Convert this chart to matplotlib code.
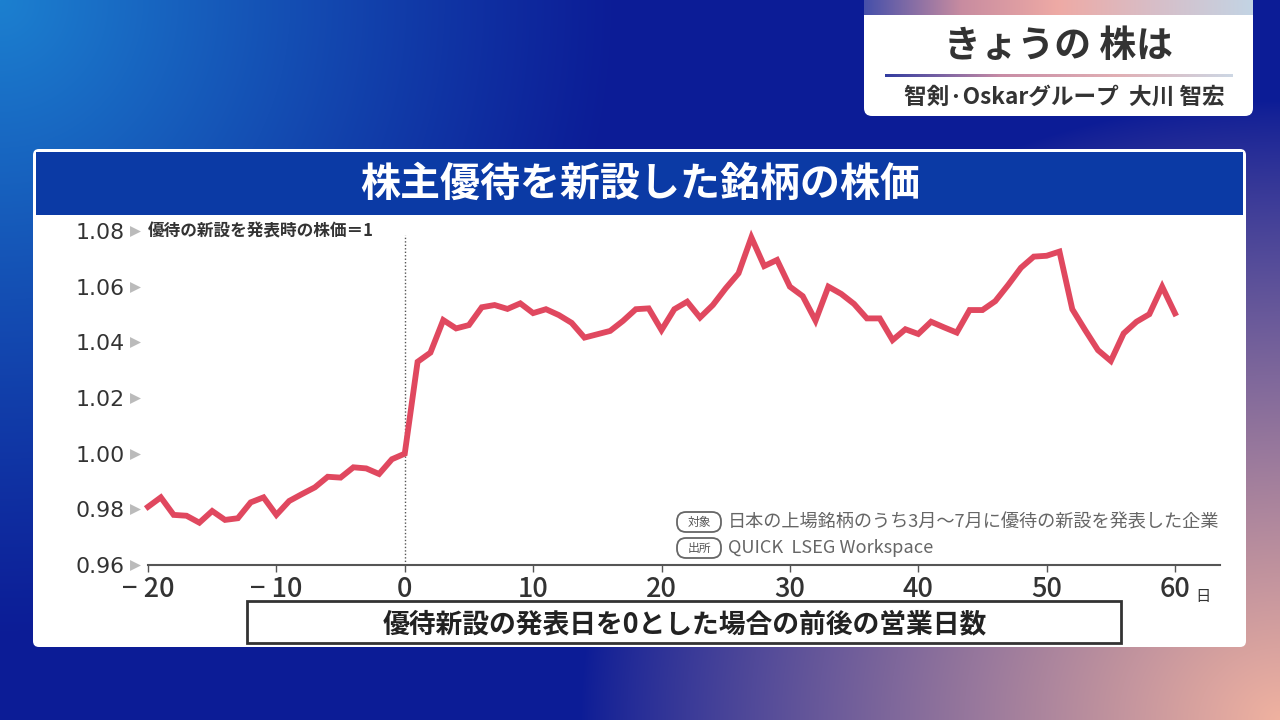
import numpy as np
import matplotlib
matplotlib.use("Agg")
import matplotlib.pyplot as plt
from matplotlib.patches import FancyBboxPatch, Rectangle

plt.rcParams['font.family'] = ['Noto Sans CJK JP', 'DejaVu Sans']

# ---------------- data ----------------
days = list(range(-20, 61))
price = [0.9809, 0.9843, 0.9780, 0.9777, 0.9752, 0.9794, 0.9762, 0.9768, 0.9825, 0.9843,
         0.9780, 0.9830, 0.9855, 0.9879, 0.9917, 0.9914, 0.9951, 0.9947, 0.9927, 0.9980,
         1.0000,
         1.0330, 1.0363, 1.0480, 1.0450, 1.0462, 1.0526, 1.0534, 1.0520, 1.0540, 1.0505,
         1.0519, 1.0498, 1.0470, 1.0417, 1.0429, 1.0441, 1.0477, 1.0519, 1.0522, 1.0444,
         1.0519, 1.0546, 1.0489, 1.0534, 1.0594, 1.0648, 1.0777, 1.0674, 1.0696, 1.0600,
         1.0566, 1.0478, 1.0600, 1.0574, 1.0538, 1.0486, 1.0486, 1.0408, 1.0447, 1.0430,
         1.0474, 1.0454, 1.0435, 1.0516, 1.0516, 1.0548, 1.0606, 1.0668, 1.0708, 1.0711,
         1.0726, 1.0519, 1.0444, 1.0372, 1.0333, 1.0432, 1.0474, 1.0501, 1.0600, 1.0504]
x_ticks = [-20, -10, 0, 10, 20, 30, 40, 50, 60]
x_tick_labels = ['− 20', '− 10', '0', '10', '20', '30', '40', '50', '60']
y_ticks = [0.96, 0.98, 1.00, 1.02, 1.04, 1.06, 1.08]
y_tick_labels = ['0.96', '0.98', '1.00', '1.02', '1.04', '1.06', '1.08']

title = '株主優待を新設した銘柄の株価'
y_note = '優待の新設を発表時の株価＝1'
x_label = '優待新設の発表日を0とした場合の前後の営業日数'
target_text = '日本の上場銘柄のうち3月～7月に優待の新設を発表した企業'
source_text = 'QUICK  LSEG Workspace'
corner_title = 'きょうの 株は'
corner_sub = '智剣·Oskarグループ  大川 智宏'

W, H = 1280, 720
fig = plt.figure(figsize=(12.8, 7.2), dpi=100)

# ---------------- background ----------------
bg = fig.add_axes([0, 0, 1, 1])
bg.set_xlim(0, W)
bg.set_ylim(H, 0)
bg.axis('off')

yy, xx = np.mgrid[0:H, 0:W].astype(float)
deep = np.array([12, 28, 150]) / 255
light = np.array([28, 128, 208]) / 255
pink = np.array([240, 178, 160]) / 255
d1 = np.sqrt((xx / 620) ** 2 + (yy / 640) ** 2)
w1 = np.clip(1 - d1, 0, 1) ** 1.1
d2 = np.sqrt(((W - xx) / 700) ** 2 + ((H - yy) / 620) ** 2)
w2 = np.clip(1 - d2, 0, 1) ** 0.85
img = deep[None, None, :] * (1 - w1[..., None]) + light[None, None, :] * w1[..., None]
img = img * (1 - w2[..., None]) + pink[None, None, :] * w2[..., None]
bg.imshow(img, extent=(0, W, H, 0), aspect='auto', zorder=0)

# ---------------- corner panel ----------------
bg.add_patch(FancyBboxPatch((864, -20), 389, 136, boxstyle='round,pad=0,rounding_size=8',
                            fc='white', ec='none', zorder=2))
stripe_cols = np.array([[70, 80, 170], [200, 140, 160], [238, 170, 165], [215, 190, 200], [195, 212, 228]]) / 255
sx = np.linspace(0, 1, 200)
stripe = np.stack([np.interp(sx, np.linspace(0, 1, len(stripe_cols)), stripe_cols[:, c]) for c in range(3)], axis=-1)
bg.imshow(stripe[None, :, :], extent=(864, 1253, 15, 0), aspect='auto', zorder=3)
ux = np.linspace(0, 1, 200)
ucols = np.array([[50, 60, 160], [200, 140, 165], [225, 175, 180], [205, 215, 228]]) / 255
uline = np.stack([np.interp(ux, np.linspace(0, 1, len(ucols)), ucols[:, c]) for c in range(3)], axis=-1)
bg.imshow(uline[None, :, :], extent=(885, 1233, 77.5, 74.5), aspect='auto', zorder=3)
bg.text(1058, 47, corner_title, ha='center', va='center', fontsize=26.5, fontweight='bold',
        color='#333333', zorder=4)
bg.text(1064, 97, corner_sub, ha='center', va='center', fontsize=16.3, fontweight='bold',
        color='#333333', zorder=4)

# ---------------- main panel ----------------
bg.add_patch(FancyBboxPatch((33, 149), 1213, 498, boxstyle='round,pad=0,rounding_size=6',
                            fc='white', ec='none', zorder=2))
bg.add_patch(Rectangle((36, 152), 1207, 63, fc='#0b3aa5', ec='none', zorder=3))
bg.text(640, 184, title, ha='center', va='center', fontsize=28.8, fontweight='bold',
        color='white', zorder=4)

# x label box
bg.add_patch(Rectangle((247, 601), 874, 42, fc='white', ec='#333333', lw=2, zorder=3))
bg.text(685, 624, x_label, ha='center', va='center', fontsize=19.3, fontweight='bold',
        color='#222222', zorder=4)

# notes
for ytxt, tag, txt in [(522, '対象', target_text), (548, '出所', source_text)]:
    bg.add_patch(FancyBboxPatch((677, ytxt - 10), 44, 20, boxstyle='round,pad=0,rounding_size=9',
                                fc='white', ec='#666666', lw=1.3, zorder=3))
    bg.text(699, ytxt, tag, ha='center', va='center', fontsize=8.5, color='#555555', zorder=4)
    bg.text(728, ytxt, txt, ha='left', va='center', fontsize=13.1, color='#666666', zorder=4)

# ---------------- chart ----------------
x0, x1 = 148, 1220
ytop, ybot = 231, 565
ax = fig.add_axes([x0 / W, 1 - ybot / H, (x1 - x0) / W, (ybot - ytop) / H])
ax.set_facecolor('none')
ax.set_zorder(5)
xmin = -20
xmax = -20 + (x1 - x0) / ((1175 - 148) / 80)
ax.set_xlim(xmin, xmax)
ax.set_ylim(0.96, 1.08)

ax.plot(days, price, color='#e0485f', lw=4.2, solid_joinstyle='miter', clip_on=False, zorder=3)
ax.plot([0, 0], [0.96, 1.0785], color='#555555', lw=1, ls=(0, (1, 1.5)), zorder=2)

for s in ['top', 'right', 'left']:
    ax.spines[s].set_visible(False)
ax.spines['bottom'].set_color('#555555')
ax.spines['bottom'].set_linewidth(1.5)

ax.set_xticks(x_ticks)
ax.set_xticklabels(x_tick_labels)
ax.tick_params(axis='x', direction='out', length=5, width=1, color='#555555',
               labelsize=19.5, labelcolor='#333333', pad=3)
for lab in ax.get_xticklabels():
    lab.set_fontweight('medium')
ax.set_yticks(y_ticks)
ax.set_yticklabels(y_tick_labels)
ax.tick_params(axis='y', length=0, labelsize=15.8, labelcolor='#333333', pad=17)
for lab in ax.get_yticklabels():
    lab.set_family(['DejaVu Sans'])

trans = ax.get_yaxis_transform()
ax.scatter([-0.0117] * len(y_ticks), y_ticks, marker='>', s=62, color='#bbbbbb',
           transform=trans, clip_on=False, zorder=4, linewidths=0)

ax.text(0.0, 1.08, y_note, transform=trans, ha='left', va='center', fontsize=12,
        fontweight='bold', color='#333333')
ax.text(1203, 596.5, '日', transform=bg.transData, ha='center', va='center', fontsize=11,
        color='#333333')

fig.savefig('out.png', dpi=100)
